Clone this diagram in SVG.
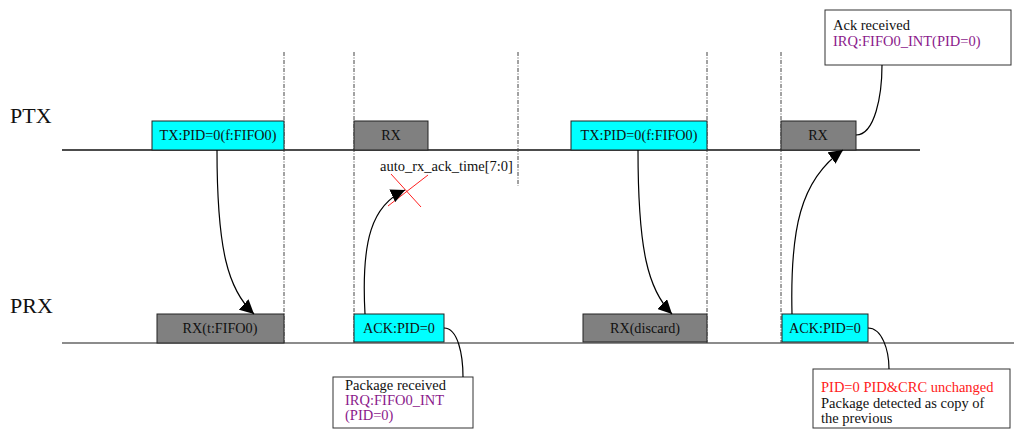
<svg xmlns="http://www.w3.org/2000/svg" width="1014" height="431" viewBox="0 0 1014 431">
<defs>
<marker id="ah" viewBox="0 0 10 10" refX="10" refY="5" markerWidth="14" markerHeight="14" markerUnits="userSpaceOnUse" orient="auto"><path d="M0,0 L10,5 L0,10 z" fill="#000"/></marker>
<style>
text{font-family:"Liberation Serif","Times New Roman",serif;fill:#111}
.lbl{font-size:22px}
.bt{font-size:14.2px;text-anchor:middle}
.nt{font-size:14.5px}
.pu{fill:#8b1a8b}
.rd{fill:#ff2020}
.cy{fill:#00ffff;stroke:#222;stroke-width:1}
.gy{fill:#808080;stroke:#222;stroke-width:1}
.note{fill:#fff;stroke:#333;stroke-width:1}
.dd{stroke:#444;stroke-width:1;stroke-dasharray:4,1.5,1,1.5;fill:none}
.cn{fill:none;stroke:#000;stroke-width:1.2}
</style>
</defs>
<rect width="1014" height="431" fill="#fff"/>
<text class="lbl" x="10" y="123">PTX</text>
<text class="lbl" x="10" y="313">PRX</text>
<g id="timelines">
<line x1="62" y1="150" x2="920" y2="150" stroke="#111" stroke-width="1.3"/>
<line x1="62" y1="343" x2="1014" y2="343" stroke="#666" stroke-width="1.5"/>
</g>
<g id="guides">
<line class="dd" x1="284" y1="52" x2="284" y2="343"/>
<line class="dd" x1="354" y1="52" x2="354" y2="343"/>
<line class="dd" x1="518" y1="52" x2="518" y2="186"/>
<line class="dd" x1="707" y1="52" x2="707" y2="343"/>
<line class="dd" x1="781" y1="52" x2="781" y2="343"/>
</g>
<g id="ptx_tx1"><rect class="cy" x="152" y="121" width="132" height="29"/><text class="bt" x="218" y="140">TX:PID=0(f:FIFO0)</text></g>
<g id="ptx_rx1"><rect class="gy" x="354" y="121" width="74" height="29"/><text class="bt" x="391" y="140">RX</text></g>
<g id="ptx_tx2"><rect class="cy" x="571" y="121" width="136" height="29"/><text class="bt" x="639" y="140">TX:PID=0(f:FIFO0)</text></g>
<g id="ptx_rx2"><rect class="gy" x="781" y="121" width="75" height="29"/><text class="bt" x="818" y="140">RX</text></g>
<g id="prx_rx1"><rect class="gy" x="157" y="314" width="127" height="29"/><text class="bt" x="220" y="333">RX(t:FIFO0)</text></g>
<g id="prx_ack1"><rect class="cy" x="354" y="314" width="90" height="28"/><text class="bt" x="399" y="333">ACK:PID=0</text></g>
<g id="prx_rx2"><rect class="gy" x="583" y="314" width="124" height="28"/><text class="bt" x="645" y="333">RX(discard)</text></g>
<g id="prx_ack2"><rect class="cy" x="782" y="314" width="86" height="28"/><text class="bt" x="825" y="333">ACK:PID=0</text></g>
<g id="timer">
<text x="380" y="171" style="font-size:14.5px">auto_rx_ack_time[7:0]</text>
<line x1="391" y1="174" x2="421" y2="207" stroke="#ff2020" stroke-width="1"/>
<line x1="428" y1="175" x2="388" y2="206" stroke="#ff2020" stroke-width="1"/>
</g>
<g id="note_pkg"><rect class="note" x="333" y="377" width="140" height="51"/>
<text class="nt" x="345" y="390">Package received</text>
<text class="nt pu" x="345" y="405">IRQ:FIFO0_INT</text>
<text class="nt pu" x="345" y="420">(PID=0)</text></g>
<g id="note_ack"><rect class="note" x="825" y="10" width="186" height="55"/>
<text class="nt" x="833" y="30">Ack received</text>
<text class="nt pu" x="833" y="46">IRQ:FIFO0_INT(PID=0)</text></g>
<g id="note_dup"><rect class="note" x="813" y="369" width="197" height="59"/>
<text class="nt rd" x="821" y="392">PID=0 PID&amp;CRC unchanged</text>
<text class="nt" x="821" y="408">Package detected as copy of</text>
<text class="nt" x="821" y="423">the previous</text></g>
<g id="connectors">
<path class="cn" marker-end="url(#ah)" d="M217,150 C217,250 228,290 254,314"/>
<path class="cn" marker-end="url(#ah)" d="M365,314 C361,240 372,205 405,190"/>
<path class="cn" marker-end="url(#ah)" d="M638,150 C638,250 648,290 672,314"/>
<path class="cn" marker-end="url(#ah)" d="M792,314 C790,230 800,180 843,150"/>
<path class="cn" d="M444,328 C458,328 463,355 463,377"/>
<path class="cn" d="M856,135 C875,135 882,95 882,65"/>
<path class="cn" d="M868,328 C882,328 889,350 889,369"/>
</g>
</svg>
